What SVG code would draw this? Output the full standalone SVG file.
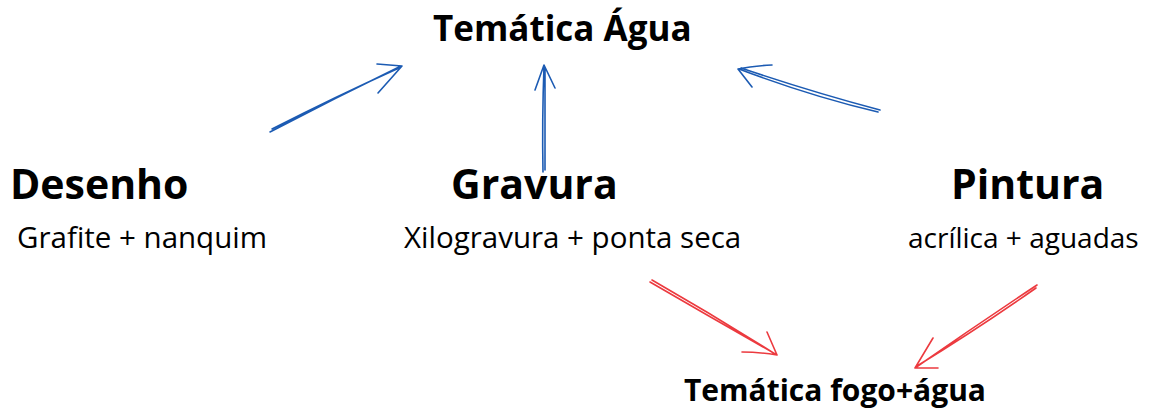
<svg xmlns="http://www.w3.org/2000/svg" width="1160" height="418" viewBox="0 0 1160 418">
<style>
.t{font-family:"Open Sans","Noto Sans","Liberation Sans",sans-serif;fill:#000}
.h{font-weight:700}
.s{font-size:29.5px}
.b{fill:none;stroke:#1c5bb3;stroke-width:1.6;stroke-linecap:round;stroke-linejoin:round}
.r{fill:none;stroke:#ec3a3f;stroke-width:1.6;stroke-linecap:round;stroke-linejoin:round}
</style>
<rect width="1160" height="418" fill="#fff"/>
<g id="agua"><text class="t h" x="433" y="41" font-size="35">Temática Água</text></g>
<g id="desenho"><text class="t h" x="10" y="199" font-size="41">Desenho</text><text class="t s" x="17" y="248">Grafite + nanquim</text></g>
<g id="gravura"><text class="t h" x="451" y="199" font-size="41">Gravura</text><text class="t s" x="404" y="248">Xilogravura + ponta seca</text></g>
<g id="pintura"><text class="t h" x="951" y="199" font-size="41">Pintura</text><text class="t" x="908" y="248" font-size="28">acrílica + aguadas</text></g>
<g id="fogo"><text class="t h" x="684" y="401" font-size="30">Temática fogo+água</text></g>
<g id="connectors">
<path class="b" d="M270 132 Q335 98 401 66 M272 129 Q337 96 399 68 M377 64 L402 66 L378 93"/>
<path class="b" d="M543 172 Q542 120 544 66 M545 170 Q545 118 545 68 M535 90 L544 65 L555 88"/>
<path class="b" d="M878 112 Q810 96 739 69 M880 110 Q812 92 741 68 M772 65 Q752 66 738 69 L752 87"/>
<path class="r" d="M650 282 Q712 318 777 355 M652 280 Q715 316 775 354 M767 332 L777 355 Q758 352 742 352"/>
<path class="r" d="M1037 285 Q975 326 915 368 M1036 288 Q976 330 917 366 M933 338 L915 368 Q927 368 938 368"/>
</g>
</svg>
